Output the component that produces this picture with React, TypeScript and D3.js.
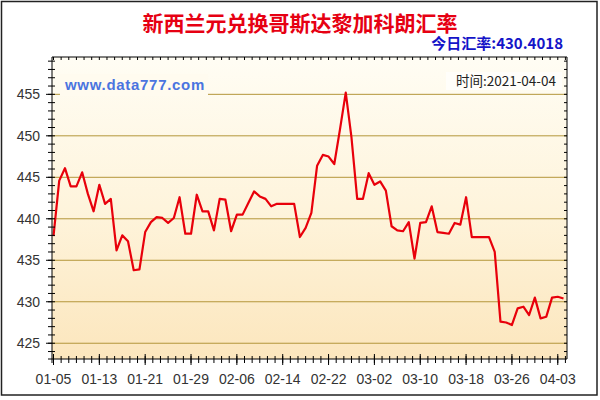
import React from 'react';
import * as d3 from 'd3';

const title = '新西兰元兑换哥斯达黎加科朗汇率';
const todayLabel = '今日汇率:430.4018';
const timeLabel = '时间:2021-04-04';
const watermark = 'www.data777.com';

const startDate = '2021-01-05';
const endDate = '2021-04-04';

const rates = [
  437.9, 444.6, 446.1, 443.9, 443.9, 445.6, 443.0, 440.9, 444.1, 441.8,
  442.4, 436.2, 438.0, 437.3, 433.8, 433.9, 438.4, 439.6, 440.2, 440.1,
  439.5, 440.1, 442.6, 438.2, 438.2, 442.9, 440.9, 440.9, 438.6, 442.4,
  442.3, 438.5, 440.5, 440.5, 441.9, 443.3, 442.7, 442.4, 441.5, 441.8,
  441.8, 441.8, 441.8, 437.8, 438.9, 440.7, 446.4, 447.7, 447.5, 446.6,
  450.8, 455.2, 449.8, 442.4, 442.4, 445.5, 444.1, 444.5, 443.4, 439.1,
  438.6, 438.5, 439.6, 435.2, 439.5, 439.6, 441.5, 438.4, 438.3, 438.2,
  439.5, 439.3, 442.6, 437.8, 437.8, 437.8, 437.8, 436.0, 427.6, 427.5,
  427.2, 429.2, 429.4, 428.4, 430.5, 428.0, 428.2, 430.5, 430.6, 430.4,
];

const yTicks = [425, 430, 435, 440, 445, 450, 455];
const xTickLabels = ['01-05', '01-13', '01-21', '01-29', '02-06', '02-14', '02-22', '03-02', '03-10', '03-18', '03-26', '04-03'];

const W = 600;
const H = 400;
const plot = { left: 52, right: 567, top: 57, bottom: 359 };

export default function App() {
  const parse = d3.timeParse('%Y-%m-%d');
  const d0 = parse(startDate) as Date;
  const d1 = parse(endDate) as Date;
  const dates = d3.timeDay.range(d0, d3.timeDay.offset(d1, 1));
  const data = dates.map((d, i) => ({ d, v: rates[i] })).filter((p) => p.v !== undefined);

  const x = d3.scaleTime().domain([d0, d1]).range([53.5, 563.5]);
  const y = d3.scaleLinear().domain([423.1, 459.5]).range([plot.bottom, plot.top]);

  const line = d3
    .line<{ d: Date; v: number }>()
    .x((p) => x(p.d))
    .y((p) => y(p.v));

  const labelDates = xTickLabels.map((l) => parse('2021-' + l) as Date);
  const stepMs = (labelDates[1].getTime() - labelDates[0].getTime()) / 6;
  const minorX: number[] = [];
  for (let k = 0; ; k++) {
    const px = x(new Date(d0.getTime() + k * stepMs));
    if (px > plot.right) break;
    minorX.push(px);
  }
  const minorY = d3.range(424, 460, 1);

  const font = 'Arial, "Liberation Sans", sans-serif';
  const cjk = '"Noto Sans CJK SC", "Microsoft YaHei", sans-serif';

  return (
    <div style={{ position: 'absolute', left: 0, top: 0 }}>
      <svg width={W} height={H} style={{ display: 'block' }}>
        <defs>
          <linearGradient id="bg" x1="0" y1="0" x2="0" y2="1">
            <stop offset="0%" stopColor="#fffdf4" />
            <stop offset="50%" stopColor="#fef4dc" />
            <stop offset="100%" stopColor="#fce6bd" />
          </linearGradient>
        </defs>
        <rect x={0} y={0} width={W} height={H} fill="#ffffff" />
        <rect x={1.5} y={1.5} width={595.5} height={393.5} fill="#ffffff" stroke="#222" strokeWidth={1.5} />

        <rect x={plot.left} y={plot.top} width={plot.right - plot.left} height={plot.bottom - plot.top} fill="url(#bg)" />

        {yTicks.map((t) => (
          <line key={'g' + t} x1={plot.left} x2={plot.right} y1={y(t)} y2={y(t)} stroke="#b4963a" strokeWidth={1} />
        ))}

        <rect x={60} y={74} width={148} height={22} fill="#fffbef" />
        <text x={65} y={90} fontFamily={font} fontWeight="bold" fontSize={15} fill="#4a74e0" letterSpacing={0.7}>
          {watermark}
        </text>
        <rect x={446} y={72} width={116} height={18} fill="#fffefa" />
        <text x={556} y={86} textAnchor="end" fontFamily={cjk} fontSize={13.5} fill="#222">
          {timeLabel}
        </text>

        <path d={line(data) || ''} fill="none" stroke="#e8000b" strokeWidth={2.2} strokeLinejoin="round" />

        <line x1={plot.left} x2={plot.left} y1={plot.top} y2={plot.bottom + 4} stroke="#000" />
        <line x1={plot.left - 4} x2={plot.right} y1={plot.bottom} y2={plot.bottom} stroke="#000" />
        <line x1={plot.left} x2={plot.right} y1={plot.top} y2={plot.top} stroke="#000" />
        <line x1={plot.right} x2={plot.right} y1={plot.top} y2={plot.bottom} stroke="#000" />

        {minorY.map((t) => (
          <g key={'my' + t}>
            <line x1={plot.left - 4} x2={plot.left + 3} y1={y(t)} y2={y(t)} stroke="#000" />
            <line x1={plot.right - 3} x2={plot.right} y1={y(t)} y2={y(t)} stroke="#000" />
          </g>
        ))}
        {yTicks.map((t) => (
          <g key={'yt' + t}>
            <line x1={plot.left - 6} x2={plot.left} y1={y(t)} y2={y(t)} stroke="#000" />
            <text x={40} y={y(t) + 5} textAnchor="end" fontFamily={font} fontSize={14} fill="#333">
              {t}
            </text>
          </g>
        ))}
        {minorX.map((px, i) => (
          <g key={'mx' + i}>
            <line x1={px} x2={px} y1={plot.bottom - 3} y2={plot.bottom + 4} stroke="#000" />
            <line x1={px} x2={px} y1={plot.top} y2={plot.top + 3} stroke="#000" />
          </g>
        ))}
        {labelDates.map((d, i) => (
          <g key={'xl' + i}>
            <line x1={x(d)} x2={x(d)} y1={plot.bottom - 5} y2={plot.bottom + 6} stroke="#000" />
            <text x={x(d)} y={384} textAnchor="middle" fontFamily={font} fontSize={14} fill="#333">
              {xTickLabels[i]}
            </text>
          </g>
        ))}

        <text x={300} y={31} textAnchor="middle" fontFamily={cjk} fontWeight="bold" fontSize={21} fill="#e60012">
          {title}
        </text>
        <text x={563} y={49} textAnchor="end" fontFamily={cjk} fontWeight="bold" fontSize={15} fill="#1414c8">
          {todayLabel}
        </text>
      </svg>
    </div>
  );
}
